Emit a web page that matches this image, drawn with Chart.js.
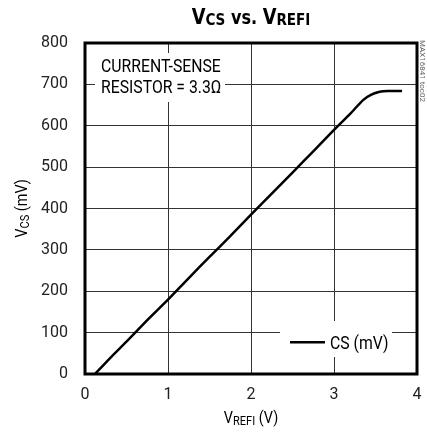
<!DOCTYPE html>
<html><head><meta charset="utf-8">
<script src="https://cdn.jsdelivr.net/npm/chart.js@4/dist/chart.umd.min.js"></script>
<style>html,body{margin:0;padding:0;background:#fff}#wrap{width:427px;height:439px;position:relative}</style>
</head><body><div id="wrap"><canvas id="c" width="427" height="439"></canvas></div>
<script>
const xValues = [0.12, 0.3, 0.5, 0.75, 1.0, 1.25, 1.5, 1.75, 2.0, 2.25, 2.5, 2.75, 3.0, 3.2, 3.35, 3.45, 3.55, 3.65, 3.82];
const csValues = [0, 38, 78, 130, 180, 232, 283, 333, 385, 436, 487, 538, 590, 630, 662, 675, 682, 684, 684];
const xTicks = [0, 1, 2, 3, 4];
const yTicks = [0, 100, 200, 300, 400, 500, 600, 700, 800];
const seriesLabel = 'CS (mV)';
const FONT = 'Roboto, "DejaVu Sans Condensed", sans-serif';
const TFONT = '"DejaVu Sans Condensed", Roboto, sans-serif';

// draws text with horizontal compression factor sx
function drawSub(ctx, parts, x, y, align, sx, fam) {
  sx = sx || 1; fam = fam || FONT;
  let total = 0;
  parts.forEach(p => { ctx.font = (p[2] ? 'bold ' : '') + p[1] + 'px ' + fam; p.w = ctx.measureText(p[0]).width; total += p.w; });
  ctx.save();
  ctx.translate(x, y);
  ctx.scale(sx, 1);
  let cx = align === 'center' ? -total / 2 : 0;
  ctx.textAlign = 'left'; ctx.textBaseline = 'alphabetic';
  parts.forEach(p => { ctx.font = (p[2] ? 'bold ' : '') + p[1] + 'px ' + fam; ctx.fillText(p[0], cx, (p[3] || 0)); cx += p.w; });
  ctx.restore();
}

const deco = {
  id: 'deco',
  beforeDatasetsDraw(chart) {
    const ctx = chart.ctx;
    ctx.save();
    ctx.fillStyle = '#fff';
    ctx.fillRect(95, 53, 130, 49);
    ctx.fillRect(280, 321, 112, 36);
    ctx.restore();
  },
  afterDraw(chart) {
    const ctx = chart.ctx, a = chart.chartArea;
    const ys = chart.scales.y;
    ctx.save();
    ctx.strokeStyle = '#000'; ctx.lineWidth = 3;
    ctx.strokeRect(a.left, a.top, a.right - a.left, a.bottom - a.top);
    ctx.fillStyle = '#000';
    const cx = (a.left + a.right) / 2;
    drawSub(ctx, [['V', 21, true], ['CS', 16, true, 1], [' vs. ', 19, true], ['V', 21, true], ['REFI', 16, true, 1]], cx, 24, 'center', 0.94, TFONT);
    drawSub(ctx, [['V', 17, false], ['REFI', 13, false, 2], [' (V)', 17, false]], cx, 423, 'center', 0.85);
    ctx.save();
    ctx.translate(27, (a.top + a.bottom) / 2);
    ctx.rotate(-Math.PI / 2);
    drawSub(ctx, [['V', 17, false], ['CS', 13, false, 2], [' (mV)', 17, false]], 0, 0, 'center', 0.85);
    ctx.restore();
    drawSub(ctx, [['CURRENT-SENSE', 19, false]], 101, 72, 'left', 0.83);
    drawSub(ctx, [['RESISTOR = 3.3\u03A9', 19, false]], 101, 93, 'left', 0.83);
    const ly = ys.getPixelForValue(77);
    ctx.strokeStyle = '#000'; ctx.lineWidth = 2.5;
    ctx.beginPath(); ctx.moveTo(290, ly); ctx.lineTo(325, ly); ctx.stroke();
    drawSub(ctx, [[chart.data.datasets[0].label, 19, false]], 330, ly + 7, 'left', 0.83);
    ctx.save();
    ctx.translate(422, 40);
    ctx.rotate(Math.PI / 2);
    ctx.fillStyle = '#666'; ctx.font = '8px ' + FONT; ctx.textAlign = 'left'; ctx.textBaseline = 'middle';
    ctx.fillText('MAX16841 toc02', 0, 0);
    ctx.restore();
    ctx.restore();
  }
};

new Chart(document.getElementById('c'), {
  type: 'line',
  data: {
    datasets: [{
      label: seriesLabel,
      data: xValues.map((x, i) => ({ x: x, y: csValues[i] })),
      borderColor: '#000', borderWidth: 2.5, pointRadius: 0, tension: 0.2, fill: false
    }]
  },
  options: {
    responsive: false, animation: false,
    layout: { padding: { left: 0, right: 10, top: 43, bottom: 0 } },
    plugins: { legend: { display: false }, title: { display: false }, tooltip: { enabled: false } },
    scales: {
      x: {
        type: 'linear', min: 0, max: 4,
        afterBuildTicks: s => { s.ticks = xTicks.map(v => ({ value: v })); },
        afterFit: s => { s.height = 65; s.paddingRight = 0; s.paddingLeft = 0; },
        grid: { color: '#333', lineWidth: 1, drawTicks: false },
        border: { display: false },
        ticks: { padding: 11, color: '#222', font: { family: FONT, size: 16 } }
      },
      y: {
        type: 'linear', min: 0, max: 800,
        afterBuildTicks: s => { s.ticks = yTicks.map(v => ({ value: v })); },
        afterFit: s => { s.width = 85; s.paddingTop = 0; s.paddingBottom = 0; },
        grid: { color: '#333', lineWidth: 1, drawTicks: false },
        border: { display: false },
        ticks: { padding: 17, color: '#222', font: { family: FONT, size: 16 } }
      }
    }
  },
  plugins: [deco]
});
</script></body></html>
